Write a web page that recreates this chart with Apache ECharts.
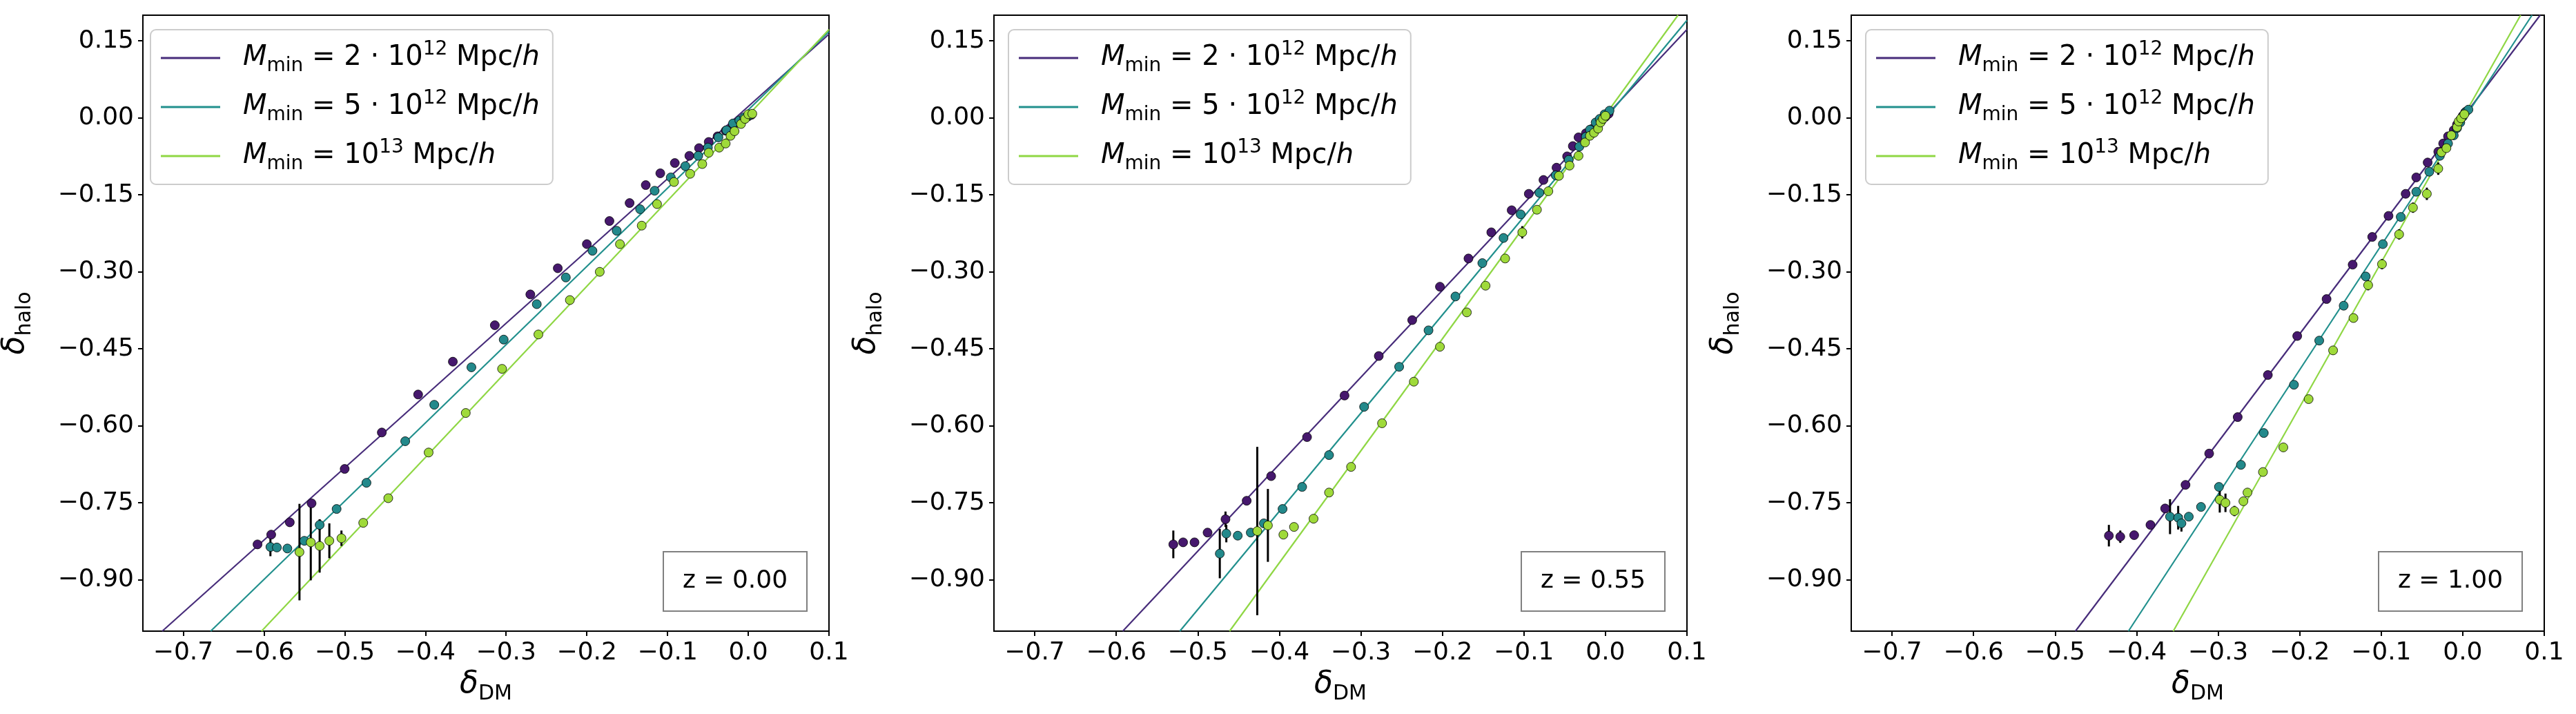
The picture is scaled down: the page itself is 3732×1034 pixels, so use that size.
<!DOCTYPE html>
<html>
<head>
<meta charset="utf-8">
<title>delta halo vs delta DM</title>
<script src="https://cdn.jsdelivr.net/npm/echarts@6/dist/echarts.min.js"></script>
<style>
  html, body { margin: 0; padding: 0; background: #fff; }
  #chart { width: 3732px; height: 1034px; }
</style>
</head>
<body>
<div id="chart"></div>
<script>
// tick labels
var xTicks = [-0.7, -0.6, -0.5, -0.4, -0.3, -0.2, -0.1, 0.0, 0.1];
var yTicks = [0.15, 0.0, -0.15, -0.3, -0.45, -0.6, -0.75, -0.9];
var redshifts = ['0.00', '0.55', '1.00'];
var massNames = ['m2', 'm5', 'm10'];

// measured points: [delta_DM, delta_halo, error bar half length]
var z000_m2 = [[-0.608,-0.831,0],[-0.591,-0.812,0],[-0.568,-0.788,0],[-0.541,-0.751,0],[-0.500,-0.684,0],[-0.454,-0.613,0],[-0.409,-0.539,0],[-0.366,-0.475,0],[-0.314,-0.404,0],[-0.270,-0.344,0],[-0.236,-0.293,0],[-0.200,-0.246,0],[-0.172,-0.201,0],[-0.147,-0.166,0],[-0.127,-0.131,0],[-0.109,-0.108,0],[-0.091,-0.088,0],[-0.073,-0.074,0],[-0.061,-0.059,0],[-0.049,-0.047,0],[-0.038,-0.036,0],[-0.028,-0.025,0],[-0.019,-0.016,0],[-0.011,-0.008,0],[-0.005,-0.002,0],[0.000,0.003,0],[0.004,0.006,0]];
var z000_m5 = [[-0.592,-0.836,0.018],[-0.584,-0.837,0],[-0.571,-0.839,0],[-0.550,-0.824,0],[-0.531,-0.793,0.010],[-0.510,-0.762,0],[-0.473,-0.711,0],[-0.425,-0.630,0],[-0.389,-0.559,0],[-0.343,-0.486,0],[-0.303,-0.432,0],[-0.262,-0.363,0],[-0.226,-0.311,0],[-0.193,-0.259,0],[-0.163,-0.220,0],[-0.134,-0.178,0],[-0.116,-0.142,0],[-0.096,-0.116,0],[-0.078,-0.094,0],[-0.062,-0.074,0],[-0.050,-0.058,0],[-0.037,-0.038,0],[-0.027,-0.024,0],[-0.019,-0.011,0],[-0.011,-0.005,0],[-0.005,0.001,0],[0.001,0.005,0]];
var z000_m10 = [[-0.556,-0.846,0.094],[-0.542,-0.827,0.074],[-0.531,-0.834,0.052],[-0.519,-0.824,0.034],[-0.504,-0.819,0.015],[-0.477,-0.789,0],[-0.446,-0.741,0],[-0.396,-0.652,0],[-0.350,-0.575,0],[-0.305,-0.489,0.008],[-0.260,-0.422,0],[-0.221,-0.355,0.008],[-0.184,-0.300,0.008],[-0.159,-0.246,0.008],[-0.132,-0.210,0.008],[-0.113,-0.168,0.008],[-0.092,-0.125,0.008],[-0.072,-0.109,0.008],[-0.057,-0.090,0.006],[-0.049,-0.068,0],[-0.036,-0.058,0],[-0.028,-0.050,0],[-0.022,-0.035,0],[-0.017,-0.026,0],[-0.009,-0.012,0],[-0.004,-0.002,0],[0.000,0.007,0],[0.005,0.008,0]];

var z055_m2 = [[-0.530,-0.831,0.027],[-0.518,-0.827,0],[-0.504,-0.827,0],[-0.488,-0.808,0],[-0.466,-0.782,0.015],[-0.440,-0.746,0],[-0.410,-0.698,0],[-0.366,-0.622,0],[-0.320,-0.541,0],[-0.278,-0.464,0],[-0.237,-0.394,0],[-0.203,-0.329,0],[-0.168,-0.274,0],[-0.140,-0.223,0],[-0.115,-0.180,0],[-0.094,-0.148,0],[-0.076,-0.121,0],[-0.060,-0.097,0],[-0.047,-0.075,0],[-0.040,-0.055,0],[-0.033,-0.038,0],[-0.024,-0.030,0],[-0.017,-0.022,0],[-0.010,-0.013,0],[-0.005,-0.006,0],[0.000,0.002,0],[0.004,0.008,0]];
var z055_m5 = [[-0.473,-0.849,0.048],[-0.465,-0.810,0.017],[-0.451,-0.814,0],[-0.435,-0.808,0],[-0.419,-0.790,0],[-0.396,-0.762,0],[-0.372,-0.719,0],[-0.339,-0.657,0],[-0.296,-0.563,0],[-0.253,-0.485,0],[-0.217,-0.414,0],[-0.184,-0.348,0],[-0.151,-0.283,0],[-0.125,-0.234,0],[-0.104,-0.188,0],[-0.081,-0.146,0],[-0.061,-0.112,0],[-0.045,-0.082,0],[-0.032,-0.056,0],[-0.024,-0.037,0],[-0.019,-0.023,0],[-0.012,-0.009,0],[-0.007,-0.002,0],[-0.001,0.007,0],[0.005,0.014,0]];
var z055_m10 = [[-0.427,-0.805,0.164],[-0.414,-0.794,0.071],[-0.395,-0.812,0],[-0.382,-0.797,0],[-0.358,-0.781,0],[-0.339,-0.730,0],[-0.312,-0.680,0],[-0.274,-0.595,0],[-0.235,-0.514,0],[-0.203,-0.446,0],[-0.170,-0.379,0],[-0.147,-0.327,0],[-0.123,-0.274,0],[-0.102,-0.223,0.012],[-0.084,-0.179,0],[-0.070,-0.143,0],[-0.057,-0.113,0],[-0.044,-0.093,0],[-0.033,-0.074,0],[-0.025,-0.048,0],[-0.019,-0.035,0],[-0.014,-0.029,0],[-0.009,-0.021,0],[-0.006,-0.009,0],[-0.003,-0.002,0],[0.000,0.004,0]];

var z100_m2 = [[-0.434,-0.814,0.021],[-0.420,-0.816,0.012],[-0.403,-0.813,0],[-0.383,-0.793,0],[-0.365,-0.761,0],[-0.340,-0.715,0],[-0.311,-0.654,0],[-0.276,-0.583,0],[-0.239,-0.501,0],[-0.203,-0.425,0],[-0.167,-0.353,0],[-0.135,-0.286,0],[-0.111,-0.232,0],[-0.091,-0.191,0],[-0.070,-0.148,0],[-0.057,-0.116,0],[-0.043,-0.087,0],[-0.030,-0.066,0],[-0.024,-0.050,0],[-0.018,-0.036,0],[-0.011,-0.024,0],[-0.007,-0.013,0],[-0.003,-0.004,0],[0.000,0.004,0],[0.003,0.011,0]];
var z100_m5 = [[-0.359,-0.777,0.034],[-0.349,-0.779,0.023],[-0.345,-0.790,0.016],[-0.336,-0.777,0],[-0.321,-0.758,0],[-0.299,-0.719,0],[-0.272,-0.676,0],[-0.244,-0.614,0],[-0.207,-0.520,0],[-0.176,-0.434,0],[-0.146,-0.366,0],[-0.119,-0.309,0],[-0.098,-0.246,0],[-0.076,-0.193,0],[-0.057,-0.144,0],[-0.041,-0.105,0],[-0.028,-0.074,0],[-0.018,-0.050,0],[-0.011,-0.034,0],[-0.007,-0.020,0],[-0.003,-0.009,0],[0.000,0.002,0],[0.004,0.012,0],[0.007,0.016,0]];
var z100_m10 = [[-0.298,-0.744,0.025],[-0.291,-0.750,0.018],[-0.280,-0.766,0.010],[-0.269,-0.747,0],[-0.264,-0.730,0],[-0.245,-0.690,0],[-0.220,-0.642,0],[-0.189,-0.548,0],[-0.159,-0.453,0],[-0.134,-0.390,0],[-0.116,-0.326,0.010],[-0.099,-0.285,0.010],[-0.078,-0.227,0.010],[-0.061,-0.175,0.010],[-0.044,-0.148,0.012],[-0.030,-0.099,0.012],[-0.026,-0.067,0],[-0.020,-0.059,0],[-0.014,-0.034,0],[-0.007,-0.018,0],[-0.005,-0.007,0],[-0.002,-0.001,0],[0.002,0.007,0]];

// linear fits, read as end points at the frame edges
var fit000 = [[[-0.726,-1.0],[0.1,0.163]], [[-0.666,-1.0],[0.1,0.168]], [[-0.603,-1.0],[0.1,0.172]]];
var fit055 = [[[-0.592,-1.0],[0.1,0.172]], [[-0.522,-1.0],[0.1,0.190]], [[-0.461,-1.0],[0.089,0.2]]];
var fit100 = [[[-0.475,-1.0],[0.095,0.2]], [[-0.410,-1.0],[0.085,0.2]], [[-0.355,-1.0],[0.071,0.2]]];

var lineColors = ['#472c7a', '#21908d', '#8fd744'];
var markerColors = ['#46186d', '#23898b', '#9fda3a'];
var FONT = 'DejaVu Sans';

var legendLabels = {
    m2: '{pad| }{mi|M}{sub|min}{rm| = 2 · 10}{sup|12}{rm| Mpc/}{mi|h}',
    m5: '{pad| }{mi|M}{sub|min}{rm| = 5 · 10}{sup|12}{rm| Mpc/}{mi|h}',
    m10: '{pad| }{mi|M}{sub|min}{rm| = 10}{sup|13}{rm| Mpc/}{mi|h}'
};

var panels = [
    {points: [z000_m2, z000_m5, z000_m10], fits: fit000},
    {points: [z055_m2, z055_m5, z055_m10], fits: fit055},
    {points: [z100_m2, z100_m5, z100_m10], fits: fit100}
];

var gridLefts = [197, 1440, 2682];
var gridTop = 22, gridW = 1004, gridH = 892;

function fmt(v, d) {
    var s = Math.abs(v).toFixed(d);
    return (v < -1e-9 ? '\u2212' : '') + s;
}

var mathRich = {
    d: {fontSize: 44, fontStyle: 'italic', lineHeight: 56, fontFamily: FONT, color: '#000'},
    s: {fontSize: 30, lineHeight: 30, verticalAlign: 'bottom', fontFamily: FONT, color: '#000'}
};

function errorBar(params, api) {
    var x = api.value(0), y = api.value(1), e = api.value(2);
    var p1 = api.coord([x, y - e]);
    var p2 = api.coord([x, y + e]);
    return {
        type: 'line',
        shape: {x1: p1[0], y1: p1[1], x2: p2[0], y2: p2[1]},
        style: {stroke: '#000', lineWidth: 3}
    };
}

var grids = [], xAxes = [], yAxes = [], series = [], legends = [], titles = [];

panels.forEach(function (p, i) {
    var left = gridLefts[i];
    grids.push({left: left, top: gridTop, width: gridW, height: gridH, show: true,
        borderColor: '#000', borderWidth: 2});

    xAxes.push({
        gridIndex: i, type: 'value', min: -0.75, max: 0.1,
        splitLine: {show: false},
        axisLine: {show: true, onZero: false, lineStyle: {color: '#000', width: 2}},
        axisTick: {show: true, customValues: xTicks, length: 7, lineStyle: {color: '#000', width: 2}},
        axisLabel: {customValues: xTicks, fontSize: 36, color: '#000', fontFamily: FONT, margin: 14,
            formatter: function (v) { return fmt(v, 1); }},
        name: '{d|δ}{s|DM}', nameLocation: 'middle', nameGap: 50,
        nameTextStyle: {rich: mathRich}
    });

    yAxes.push({
        gridIndex: i, type: 'value', min: -1.0, max: 0.2,
        splitLine: {show: false},
        axisLine: {show: true, onZero: false, lineStyle: {color: '#000', width: 2}},
        axisTick: {show: true, customValues: yTicks, length: 7, lineStyle: {color: '#000', width: 2}},
        axisLabel: {customValues: yTicks, fontSize: 36, color: '#000', fontFamily: FONT, margin: 13,
            formatter: function (v) { return fmt(v, 2); }},
        name: '{d|δ}{s|halo}', nameLocation: 'middle', nameRotate: 90, nameGap: 156,
        nameTextStyle: {rich: mathRich}
    });

    // fit lines under the points
    p.fits.forEach(function (f, k) {
        series.push({
            type: 'line', name: massNames[k], xAxisIndex: i, yAxisIndex: i,
            data: f, showSymbol: false, symbol: 'none', silent: true,
            color: lineColors[k],
            lineStyle: {color: lineColors[k], width: 2.2},
            z: 2
        });
    });

    p.points.forEach(function (pts, k) {
        series.push({
            type: 'custom', name: massNames[k] + '_err', xAxisIndex: i, yAxisIndex: i,
            data: pts.filter(function (d) { return d[2] > 0; }),
            encode: {x: 0, y: 1},
            renderItem: errorBar, silent: true, z: 3
        });
        series.push({
            type: 'scatter', name: massNames[k] + '_pts', xAxisIndex: i, yAxisIndex: i,
            data: pts.map(function (d) { return [d[0], d[1]]; }),
            symbolSize: 13, silent: true,
            itemStyle: {color: markerColors[k], borderColor: '#000', borderWidth: 0.8, opacity: 1},
            z: 3
        });
    });

    legends.push({
        left: left + 21, top: gridTop + 21, orient: 'vertical',
        data: massNames, selectedMode: false,
        icon: 'rect', itemWidth: 86, itemHeight: 3, itemGap: 19,
        padding: [15, 19, 15, 15],
        backgroundColor: 'rgba(255,255,255,0.8)',
        borderColor: '#cccccc', borderWidth: 2, borderRadius: 8,
        formatter: function (name) { return legendLabels[name]; },
        textStyle: {
            color: '#000', fontFamily: FONT, fontSize: 40,
            rich: {
                pad: {width: 28, fontSize: 40, lineHeight: 52},
                mi: {fontSize: 40, fontStyle: 'italic', lineHeight: 52, fontFamily: FONT, color: '#000'},
                rm: {fontSize: 40, lineHeight: 52, fontFamily: FONT, color: '#000'},
                sub: {fontSize: 28, lineHeight: 28, verticalAlign: 'bottom', fontFamily: FONT, color: '#000'},
                sup: {fontSize: 28, lineHeight: 36, verticalAlign: 'top', fontFamily: FONT, color: '#000'}
            }
        }
    });

    titles.push({
        text: 'z = ' + redshifts[i],
        left: left + gridW - 31 - 209, top: 799,
        padding: [23, 28],
        borderColor: '#808080', borderWidth: 2,
        backgroundColor: '#fff',
        textStyle: {fontSize: 36, fontWeight: 'normal', color: '#000', fontFamily: FONT, lineHeight: 40}
    });
});

var chart = echarts.init(document.getElementById('chart'), null, {renderer: 'canvas'});
chart.setOption({
    animation: false,
    backgroundColor: '#fff',
    grid: grids,
    xAxis: xAxes,
    yAxis: yAxes,
    legend: legends,
    title: titles,
    series: series
});
</script>
</body>
</html>
